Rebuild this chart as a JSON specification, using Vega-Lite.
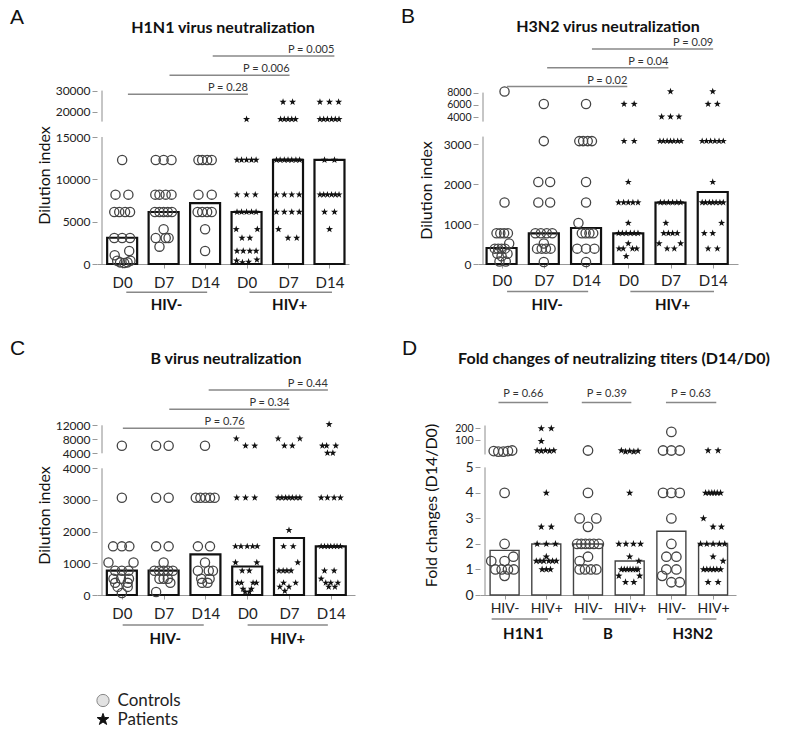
{
"$schema": "https://vega.github.io/schema/vega-lite/v6.json",
"padding": {"left": 10, "top": 6, "right": 5, "bottom": 5},
"background": "white",
"config": {"view": {"stroke": null}, "axis": {"grid": false, "labelFont": "Lato", "titleFont": "Lato", "domainColor": "#999", "tickColor": "#999", "labelColor": "#222", "titleColor": "#111", "titleFontWeight": "normal", "tickCount": 30}},
"datasets": {
"aPt": [
{"x":1.00,"v":12288,"g":"C"},{"x":0.84,"v":8192,"g":"C"},{"x":1.15,"v":8192,"g":"C"},{"x":0.81,"v":6144,"g":"C"},{"x":0.93,"v":6144,"g":"C"},{"x":1.07,"v":6144,"g":"C"},{"x":1.19,"v":6144,"g":"C"},{"x":0.81,"v":3072,"g":"C"},{"x":1.00,"v":3072,"g":"C"},{"x":1.19,"v":3072,"g":"C"},{"x":1.17,"v":1536,"g":"C"},{"x":0.82,"v":1024,"g":"C"},{"x":0.88,"v":384,"g":"C"},{"x":0.95,"v":192,"g":"C"},{"x":1.05,"v":128,"g":"C"},{"x":1.13,"v":192,"g":"C"},{"x":1.2,"v":384,"g":"C"},
{"x":1.81,"v":12288,"g":"C"},{"x":2.00,"v":12288,"g":"C"},{"x":2.19,"v":12288,"g":"C"},{"x":1.8,"v":8192,"g":"C"},{"x":1.9,"v":8192,"g":"C"},{"x":2.05,"v":8192,"g":"C"},{"x":2.19,"v":8192,"g":"C"},{"x":1.79,"v":6144,"g":"C"},{"x":1.9,"v":6144,"g":"C"},{"x":2.0,"v":6144,"g":"C"},{"x":2.1,"v":6144,"g":"C"},{"x":2.2,"v":6144,"g":"C"},{"x":2.0,"v":4096,"g":"C"},{"x":1.81,"v":3072,"g":"C"},{"x":2.05,"v":3072,"g":"C"},{"x":2.12,"v":3072,"g":"C"},{"x":1.9,"v":2048,"g":"C"},
{"x":2.84,"v":12288,"g":"C"},{"x":2.93,"v":12288,"g":"C"},{"x":3.05,"v":12288,"g":"C"},{"x":3.16,"v":12288,"g":"C"},{"x":2.84,"v":8192,"g":"C"},{"x":3.16,"v":8192,"g":"C"},{"x":2.82,"v":6144,"g":"C"},{"x":2.93,"v":6144,"g":"C"},{"x":3.05,"v":6144,"g":"C"},{"x":3.16,"v":6144,"g":"C"},{"x":3.0,"v":4096,"g":"C"},{"x":3.0,"v":1536,"g":"C"},
{"x":4.0,"v":16384,"g":"P"},{"x":3.77,"v":12288,"g":"P"},{"x":3.88,"v":12288,"g":"P"},{"x":4.0,"v":12288,"g":"P"},{"x":4.12,"v":12288,"g":"P"},{"x":4.23,"v":12288,"g":"P"},{"x":3.77,"v":8192,"g":"P"},{"x":4.0,"v":8192,"g":"P"},{"x":4.21,"v":8192,"g":"P"},{"x":3.77,"v":6144,"g":"P"},{"x":3.88,"v":6144,"g":"P"},{"x":4.0,"v":6144,"g":"P"},{"x":4.12,"v":6144,"g":"P"},{"x":4.23,"v":6144,"g":"P"},{"x":3.75,"v":4096,"g":"P"},{"x":4.26,"v":4096,"g":"P"},{"x":3.89,"v":3072,"g":"P"},{"x":4.08,"v":3072,"g":"P"},{"x":3.77,"v":1536,"g":"P"},{"x":3.92,"v":1536,"g":"P"},{"x":4.08,"v":1536,"g":"P"},{"x":4.23,"v":1536,"g":"P"},{"x":3.76,"v":384,"g":"P"},{"x":3.9,"v":192,"g":"P"},{"x":4.05,"v":256,"g":"P"},{"x":4.25,"v":512,"g":"P"},
{"x":4.88,"v":24576,"g":"P"},{"x":5.11,"v":24576,"g":"P"},{"x":4.82,"v":16384,"g":"P"},{"x":4.91,"v":16384,"g":"P"},{"x":5.0,"v":16384,"g":"P"},{"x":5.09,"v":16384,"g":"P"},{"x":5.18,"v":16384,"g":"P"},{"x":4.72,"v":12288,"g":"P"},{"x":4.81,"v":12288,"g":"P"},{"x":4.91,"v":12288,"g":"P"},{"x":5.0,"v":12288,"g":"P"},{"x":5.09,"v":12288,"g":"P"},{"x":5.19,"v":12288,"g":"P"},{"x":5.28,"v":12288,"g":"P"},{"x":4.72,"v":8192,"g":"P"},{"x":4.91,"v":8192,"g":"P"},{"x":5.09,"v":8192,"g":"P"},{"x":5.27,"v":8192,"g":"P"},{"x":4.72,"v":6144,"g":"P"},{"x":4.91,"v":6144,"g":"P"},{"x":5.09,"v":6144,"g":"P"},{"x":5.27,"v":6144,"g":"P"},{"x":4.77,"v":4096,"g":"P"},{"x":5.0,"v":3072,"g":"P"},{"x":5.21,"v":3072,"g":"P"},
{"x":5.77,"v":24576,"g":"P"},{"x":6.0,"v":24576,"g":"P"},{"x":6.22,"v":24576,"g":"P"},{"x":5.77,"v":16384,"g":"P"},{"x":5.86,"v":16384,"g":"P"},{"x":5.95,"v":16384,"g":"P"},{"x":6.05,"v":16384,"g":"P"},{"x":6.14,"v":16384,"g":"P"},{"x":6.23,"v":16384,"g":"P"},{"x":5.88,"v":12288,"g":"P"},{"x":6.12,"v":12288,"g":"P"},{"x":5.77,"v":8192,"g":"P"},{"x":5.86,"v":8192,"g":"P"},{"x":5.95,"v":8192,"g":"P"},{"x":6.05,"v":8192,"g":"P"},{"x":6.14,"v":8192,"g":"P"},{"x":6.23,"v":8192,"g":"P"},{"x":5.88,"v":6144,"g":"P"},{"x":6.12,"v":6144,"g":"P"},{"x":6.0,"v":4096,"g":"P"}
],
"aBar": [{"x":1,"v":3100},{"x":2,"v":6144},{"x":3,"v":7200},{"x":4,"v":6144},{"x":5,"v":12288},{"x":6,"v":12288}],
"aAx": [{"y1":0,"y2":15000},{"y1":15240,"y2":30000}],
"aP": [{"x":1.139,"x2":4.034,"lvl":1,"label":"P = 0.28"},{"x":2.142,"x2":5.037,"lvl":2,"label":"P = 0.006"},{"x":3.184,"x2":6.118,"lvl":3,"label":"P = 0.005"}],
"aG": [{"x":1.10,"x2":3.05,"xm":2.07,"label":"HIV-"},{"x":4.07,"x2":6.06,"xm":5.04,"label":"HIV+"}],
"bPt": [
{"x":1.07,"v":8192,"g":"C"},{"x":1.07,"v":1536,"g":"C"},{"x":0.88,"v":768,"g":"C"},{"x":0.97,"v":768,"g":"C"},{"x":1.06,"v":768,"g":"C"},{"x":1.15,"v":768,"g":"C"},{"x":1.18,"v":512,"g":"C"},{"x":0.84,"v":384,"g":"C"},{"x":0.92,"v":384,"g":"C"},{"x":1.0,"v":384,"g":"C"},{"x":1.08,"v":384,"g":"C"},{"x":0.9,"v":256,"g":"C"},{"x":1.14,"v":256,"g":"C"},{"x":1.0,"v":192,"g":"C"},{"x":0.95,"v":64,"g":"C"},{"x":1.1,"v":64,"g":"C"},
{"x":2.0,"v":6144,"g":"C"},{"x":2.0,"v":3072,"g":"C"},{"x":1.87,"v":2048,"g":"C"},{"x":2.15,"v":2048,"g":"C"},{"x":1.87,"v":1536,"g":"C"},{"x":2.15,"v":1536,"g":"C"},{"x":1.8,"v":768,"g":"C"},{"x":1.93,"v":768,"g":"C"},{"x":2.07,"v":768,"g":"C"},{"x":2.2,"v":768,"g":"C"},{"x":2.0,"v":512,"g":"C"},{"x":1.84,"v":384,"g":"C"},{"x":1.95,"v":384,"g":"C"},{"x":2.05,"v":384,"g":"C"},{"x":2.16,"v":384,"g":"C"},{"x":2.0,"v":48,"g":"C"},
{"x":3.0,"v":6144,"g":"C"},{"x":2.84,"v":3072,"g":"C"},{"x":2.93,"v":3072,"g":"C"},{"x":3.04,"v":3072,"g":"C"},{"x":3.14,"v":3072,"g":"C"},{"x":3.0,"v":2048,"g":"C"},{"x":3.0,"v":1536,"g":"C"},{"x":2.82,"v":1024,"g":"C"},{"x":2.9,"v":768,"g":"C"},{"x":2.99,"v":768,"g":"C"},{"x":3.08,"v":768,"g":"C"},{"x":3.17,"v":768,"g":"C"},{"x":2.79,"v":384,"g":"C"},{"x":3.0,"v":384,"g":"C"},{"x":3.2,"v":384,"g":"C"},{"x":3.0,"v":48,"g":"C"},
{"x":3.9,"v":6144,"g":"P"},{"x":4.14,"v":6144,"g":"P"},{"x":3.9,"v":3072,"g":"P"},{"x":4.14,"v":3072,"g":"P"},{"x":4.0,"v":2048,"g":"P"},{"x":3.77,"v":1536,"g":"P"},{"x":3.89,"v":1536,"g":"P"},{"x":4.0,"v":1536,"g":"P"},{"x":4.11,"v":1536,"g":"P"},{"x":4.23,"v":1536,"g":"P"},{"x":4.0,"v":1024,"g":"P"},{"x":3.77,"v":768,"g":"P"},{"x":3.86,"v":768,"g":"P"},{"x":3.95,"v":768,"g":"P"},{"x":4.05,"v":768,"g":"P"},{"x":4.14,"v":768,"g":"P"},{"x":4.23,"v":768,"g":"P"},{"x":4.0,"v":512,"g":"P"},{"x":3.78,"v":384,"g":"P"},{"x":3.88,"v":384,"g":"P"},{"x":4.1,"v":384,"g":"P"},{"x":4.2,"v":384,"g":"P"},{"x":3.95,"v":192,"g":"P"},
{"x":5.0,"v":8192,"g":"P"},{"x":4.79,"v":4096,"g":"P"},{"x":5.0,"v":4096,"g":"P"},{"x":5.2,"v":4096,"g":"P"},{"x":4.75,"v":3072,"g":"P"},{"x":4.83,"v":3072,"g":"P"},{"x":4.92,"v":3072,"g":"P"},{"x":5.0,"v":3072,"g":"P"},{"x":5.08,"v":3072,"g":"P"},{"x":5.17,"v":3072,"g":"P"},{"x":5.25,"v":3072,"g":"P"},{"x":4.76,"v":1536,"g":"P"},{"x":4.85,"v":1536,"g":"P"},{"x":4.95,"v":1536,"g":"P"},{"x":5.05,"v":1536,"g":"P"},{"x":5.15,"v":1536,"g":"P"},{"x":5.24,"v":1536,"g":"P"},{"x":4.89,"v":1024,"g":"P"},{"x":4.84,"v":768,"g":"P"},{"x":4.95,"v":768,"g":"P"},{"x":5.05,"v":768,"g":"P"},{"x":5.16,"v":768,"g":"P"},{"x":4.73,"v":512,"g":"P"},{"x":5.24,"v":512,"g":"P"},{"x":4.92,"v":384,"g":"P"},{"x":5.09,"v":384,"g":"P"},
{"x":6.0,"v":8192,"g":"P"},{"x":5.89,"v":6144,"g":"P"},{"x":6.11,"v":6144,"g":"P"},{"x":5.75,"v":3072,"g":"P"},{"x":5.85,"v":3072,"g":"P"},{"x":5.95,"v":3072,"g":"P"},{"x":6.05,"v":3072,"g":"P"},{"x":6.15,"v":3072,"g":"P"},{"x":6.25,"v":3072,"g":"P"},{"x":6.0,"v":2048,"g":"P"},{"x":5.75,"v":1536,"g":"P"},{"x":5.83,"v":1536,"g":"P"},{"x":5.92,"v":1536,"g":"P"},{"x":6.0,"v":1536,"g":"P"},{"x":6.08,"v":1536,"g":"P"},{"x":6.17,"v":1536,"g":"P"},{"x":6.25,"v":1536,"g":"P"},{"x":6.21,"v":1024,"g":"P"},{"x":5.8,"v":768,"g":"P"},{"x":6.0,"v":768,"g":"P"},{"x":5.89,"v":384,"g":"P"},{"x":6.11,"v":384,"g":"P"}
],
"bBar": [{"x":1,"v":400},{"x":2,"v":768},{"x":3,"v":900},{"x":4,"v":768},{"x":5,"v":1536},{"x":6,"v":1800}],
"bAx": [{"y1":0,"y2":3185},{"y1":3300,"y2":8000}],
"bP": [{"x":1.129,"x2":3.977,"lvl":1,"label":"P = 0.02"},{"x":2.079,"x2":4.95,"lvl":2,"label":"P = 0.04"},{"x":3.14,"x2":6.01,"lvl":3,"label":"P = 0.09"}],
"bG": [{"x":1.13,"x2":3.05,"xm":2.08,"label":"HIV-"},{"x":4.05,"x2":6.03,"xm":5.05,"label":"HIV+"}],
"cPt": [
{"x":1.0,"v":6144,"g":"C"},{"x":1.0,"v":3072,"g":"C"},{"x":0.79,"v":1536,"g":"C"},{"x":1.0,"v":1536,"g":"C"},{"x":1.18,"v":1536,"g":"C"},{"x":0.68,"v":1024,"g":"C"},{"x":1.28,"v":1024,"g":"C"},{"x":0.84,"v":768,"g":"C"},{"x":1.0,"v":768,"g":"C"},{"x":1.16,"v":768,"g":"C"},{"x":0.8,"v":512,"g":"C"},{"x":0.98,"v":512,"g":"C"},{"x":1.17,"v":512,"g":"C"},{"x":0.84,"v":384,"g":"C"},{"x":1.14,"v":384,"g":"C"},{"x":0.9,"v":256,"g":"C"},{"x":1.14,"v":256,"g":"C"},{"x":1.0,"v":64,"g":"C"},
{"x":1.82,"v":6144,"g":"C"},{"x":2.12,"v":6144,"g":"C"},{"x":1.82,"v":3072,"g":"C"},{"x":2.12,"v":3072,"g":"C"},{"x":1.82,"v":1536,"g":"C"},{"x":2.12,"v":1536,"g":"C"},{"x":2.0,"v":1024,"g":"C"},{"x":1.78,"v":768,"g":"C"},{"x":1.89,"v":768,"g":"C"},{"x":2.0,"v":768,"g":"C"},{"x":2.11,"v":768,"g":"C"},{"x":2.22,"v":768,"g":"C"},{"x":1.9,"v":512,"g":"C"},{"x":2.0,"v":512,"g":"C"},{"x":2.1,"v":512,"g":"C"},{"x":2.16,"v":384,"g":"C"},{"x":1.82,"v":96,"g":"C"},
{"x":2.99,"v":6144,"g":"C"},{"x":2.77,"v":3072,"g":"C"},{"x":2.88,"v":3072,"g":"C"},{"x":3.0,"v":3072,"g":"C"},{"x":3.11,"v":3072,"g":"C"},{"x":3.22,"v":3072,"g":"C"},{"x":2.82,"v":1536,"g":"C"},{"x":3.11,"v":1536,"g":"C"},{"x":2.99,"v":1024,"g":"C"},{"x":2.82,"v":768,"g":"C"},{"x":3.08,"v":768,"g":"C"},{"x":3.18,"v":768,"g":"C"},{"x":2.9,"v":512,"g":"C"},{"x":3.1,"v":512,"g":"C"},{"x":2.92,"v":384,"g":"C"},{"x":3.05,"v":384,"g":"C"},
{"x":3.74,"v":8192,"g":"P"},{"x":3.96,"v":6144,"g":"P"},{"x":4.18,"v":6144,"g":"P"},{"x":3.75,"v":3072,"g":"P"},{"x":3.96,"v":3072,"g":"P"},{"x":4.18,"v":3072,"g":"P"},{"x":3.72,"v":1536,"g":"P"},{"x":3.85,"v":1536,"g":"P"},{"x":4.0,"v":1536,"g":"P"},{"x":4.13,"v":1536,"g":"P"},{"x":4.24,"v":1536,"g":"P"},{"x":3.72,"v":1024,"g":"P"},{"x":4.23,"v":1024,"g":"P"},{"x":3.88,"v":768,"g":"P"},{"x":4.05,"v":768,"g":"P"},{"x":3.77,"v":384,"g":"P"},{"x":3.86,"v":384,"g":"P"},{"x":4.14,"v":384,"g":"P"},{"x":4.22,"v":384,"g":"P"},{"x":3.9,"v":192,"g":"P"},{"x":4.1,"v":192,"g":"P"},{"x":3.95,"v":96,"g":"P"},{"x":4.05,"v":96,"g":"P"},
{"x":4.74,"v":8192,"g":"P"},{"x":5.26,"v":8192,"g":"P"},{"x":4.89,"v":6144,"g":"P"},{"x":5.08,"v":6144,"g":"P"},{"x":4.74,"v":3072,"g":"P"},{"x":4.83,"v":3072,"g":"P"},{"x":4.92,"v":3072,"g":"P"},{"x":5.0,"v":3072,"g":"P"},{"x":5.08,"v":3072,"g":"P"},{"x":5.17,"v":3072,"g":"P"},{"x":5.26,"v":3072,"g":"P"},{"x":5.0,"v":2048,"g":"P"},{"x":4.87,"v":1536,"g":"P"},{"x":5.1,"v":1536,"g":"P"},{"x":5.21,"v":1024,"g":"P"},{"x":4.76,"v":768,"g":"P"},{"x":4.86,"v":768,"g":"P"},{"x":4.95,"v":768,"g":"P"},{"x":5.05,"v":768,"g":"P"},{"x":4.87,"v":384,"g":"P"},{"x":5.16,"v":384,"g":"P"},{"x":4.78,"v":256,"g":"P"},{"x":5.0,"v":256,"g":"P"},{"x":4.9,"v":128,"g":"P"},
{"x":5.96,"v":12288,"g":"P"},{"x":5.8,"v":6144,"g":"P"},{"x":5.9,"v":6144,"g":"P"},{"x":6.12,"v":6144,"g":"P"},{"x":5.92,"v":4096,"g":"P"},{"x":6.05,"v":4096,"g":"P"},{"x":5.77,"v":3072,"g":"P"},{"x":5.92,"v":3072,"g":"P"},{"x":6.08,"v":3072,"g":"P"},{"x":6.23,"v":3072,"g":"P"},{"x":5.77,"v":1536,"g":"P"},{"x":5.85,"v":1536,"g":"P"},{"x":5.93,"v":1536,"g":"P"},{"x":6.0,"v":1536,"g":"P"},{"x":6.08,"v":1536,"g":"P"},{"x":6.15,"v":1536,"g":"P"},{"x":6.23,"v":1536,"g":"P"},{"x":5.85,"v":768,"g":"P"},{"x":6.08,"v":768,"g":"P"},{"x":5.77,"v":512,"g":"P"},{"x":5.88,"v":384,"g":"P"},{"x":6.0,"v":384,"g":"P"},{"x":6.17,"v":384,"g":"P"},{"x":5.95,"v":256,"g":"P"},{"x":6.1,"v":256,"g":"P"}
],
"cBar": [{"x":1,"v":768},{"x":2,"v":768},{"x":3,"v":1280},{"x":4,"v":900},{"x":5,"v":1800},{"x":6,"v":1536}],
"cAx": [{"y1":0,"y2":4000},{"y1":4001,"y2":12000}],
"cP": [{"x":1.024,"x2":3.939,"lvl":1,"label":"P = 0.76"},{"x":2.135,"x2":5.011,"lvl":2,"label":"P = 0.34"},{"x":3.078,"x2":5.931,"lvl":3,"label":"P = 0.44"}],
"cG": [{"x":1.02,"x2":2.96,"xm":2.04,"label":"HIV-"},{"x":4.01,"x2":5.93,"xm":4.97,"label":"HIV+"}],
"dPt": [
{"x":0.74,"v":56,"g":"C"},{"x":0.85,"v":48,"g":"C"},{"x":0.97,"v":48,"g":"C"},{"x":1.08,"v":56,"g":"C"},{"x":1.18,"v":64,"g":"C"},{"x":1.0,"v":4,"g":"C"},{"x":1.0,"v":2,"g":"C"},{"x":1.21,"v":1.5,"g":"C"},{"x":0.68,"v":1.33,"g":"C"},{"x":1.0,"v":1.33,"g":"C"},{"x":0.78,"v":1,"g":"C"},{"x":0.93,"v":1,"g":"C"},{"x":1.08,"v":1,"g":"C"},{"x":1.22,"v":1,"g":"C"},{"x":1.0,"v":0.75,"g":"C"},
{"x":3.0,"v":64,"g":"C"},{"x":3.0,"v":4,"g":"C"},{"x":2.8,"v":3,"g":"C"},{"x":3.2,"v":3,"g":"C"},{"x":3.0,"v":2.67,"g":"C"},{"x":2.74,"v":2,"g":"C"},{"x":2.84,"v":2,"g":"C"},{"x":2.94,"v":2,"g":"C"},{"x":3.04,"v":2,"g":"C"},{"x":3.14,"v":2,"g":"C"},{"x":3.26,"v":2,"g":"C"},{"x":3.0,"v":1.5,"g":"C"},{"x":2.8,"v":1.33,"g":"C"},{"x":2.8,"v":1,"g":"C"},{"x":2.93,"v":1,"g":"C"},{"x":3.07,"v":1,"g":"C"},{"x":3.2,"v":1,"g":"C"},
{"x":5.0,"v":170,"g":"C"},{"x":4.8,"v":64,"g":"C"},{"x":5.0,"v":64,"g":"C"},{"x":5.2,"v":64,"g":"C"},{"x":4.8,"v":4,"g":"C"},{"x":5.0,"v":4,"g":"C"},{"x":5.2,"v":4,"g":"C"},{"x":5.0,"v":3,"g":"C"},{"x":5.0,"v":2,"g":"C"},{"x":4.88,"v":1.5,"g":"C"},{"x":5.12,"v":1.5,"g":"C"},{"x":4.88,"v":1,"g":"C"},{"x":5.12,"v":1,"g":"C"},{"x":4.78,"v":0.75,"g":"C"},{"x":5.0,"v":0.5,"g":"C"},{"x":5.2,"v":0.5,"g":"C"},
{"x":1.88,"v":200,"g":"P"},{"x":2.12,"v":200,"g":"P"},{"x":1.88,"v":96,"g":"P"},{"x":1.78,"v":64,"g":"P"},{"x":1.88,"v":56,"g":"P"},{"x":1.98,"v":64,"g":"P"},{"x":2.08,"v":56,"g":"P"},{"x":2.18,"v":64,"g":"P"},{"x":2.0,"v":4,"g":"P"},{"x":1.88,"v":2.67,"g":"P"},{"x":2.12,"v":2.67,"g":"P"},{"x":1.78,"v":2,"g":"P"},{"x":2.0,"v":2,"g":"P"},{"x":2.22,"v":2,"g":"P"},{"x":2.0,"v":1.5,"g":"P"},{"x":1.76,"v":1.33,"g":"P"},{"x":1.85,"v":1.33,"g":"P"},{"x":1.94,"v":1.33,"g":"P"},{"x":2.06,"v":1.33,"g":"P"},{"x":2.15,"v":1.33,"g":"P"},{"x":2.24,"v":1.33,"g":"P"},{"x":1.9,"v":1,"g":"P"},{"x":2.0,"v":1,"g":"P"},{"x":2.1,"v":1,"g":"P"},
{"x":3.8,"v":64,"g":"P"},{"x":3.9,"v":48,"g":"P"},{"x":4.0,"v":56,"g":"P"},{"x":4.1,"v":48,"g":"P"},{"x":4.2,"v":56,"g":"P"},{"x":4.0,"v":4,"g":"P"},{"x":3.74,"v":2,"g":"P"},{"x":3.91,"v":2,"g":"P"},{"x":4.09,"v":2,"g":"P"},{"x":4.26,"v":2,"g":"P"},{"x":4.0,"v":1.5,"g":"P"},{"x":4.22,"v":1.33,"g":"P"},{"x":3.8,"v":1,"g":"P"},{"x":3.87,"v":1,"g":"P"},{"x":3.94,"v":1,"g":"P"},{"x":4.01,"v":1,"g":"P"},{"x":4.08,"v":1,"g":"P"},{"x":4.15,"v":1,"g":"P"},{"x":4.2,"v":1,"g":"P"},{"x":3.74,"v":0.75,"g":"P"},{"x":4.24,"v":0.75,"g":"P"},{"x":3.9,"v":0.5,"g":"P"},{"x":4.1,"v":0.5,"g":"P"},
{"x":5.88,"v":64,"g":"P"},{"x":6.12,"v":64,"g":"P"},{"x":5.82,"v":4,"g":"P"},{"x":5.9,"v":4,"g":"P"},{"x":5.97,"v":4,"g":"P"},{"x":6.03,"v":4,"g":"P"},{"x":6.1,"v":4,"g":"P"},{"x":6.18,"v":4,"g":"P"},{"x":5.77,"v":3,"g":"P"},{"x":6.0,"v":2.67,"g":"P"},{"x":6.2,"v":2.67,"g":"P"},{"x":5.7,"v":2,"g":"P"},{"x":5.85,"v":2,"g":"P"},{"x":6.0,"v":2,"g":"P"},{"x":6.15,"v":2,"g":"P"},{"x":6.28,"v":2,"g":"P"},{"x":6.0,"v":1.5,"g":"P"},{"x":6.24,"v":1.33,"g":"P"},{"x":5.77,"v":1,"g":"P"},{"x":5.85,"v":1,"g":"P"},{"x":5.93,"v":1,"g":"P"},{"x":6.01,"v":1,"g":"P"},{"x":6.09,"v":1,"g":"P"},{"x":6.18,"v":1,"g":"P"},{"x":5.88,"v":0.5,"g":"P"},{"x":6.12,"v":0.5,"g":"P"}
],
"dBar": [{"x":1,"v":1.75},{"x":2,"v":2},{"x":3,"v":2},{"x":4,"v":1.33},{"x":5,"v":2.5},{"x":6,"v":2}],
"dAx": [{"y1":0,"y2":5},{"y1":5.001,"y2":225}],
"dP": [{"x":0.853,"x2":2.044,"xm":1.45,"lvl":1,"label":"P = 0.66"},{"x":2.851,"x2":4.04,"xm":3.45,"lvl":1,"label":"P = 0.39"},{"x":4.87,"x2":6.077,"xm":5.47,"lvl":1,"label":"P = 0.63"}],
"dG": [{"x":0.69,"x2":2.04,"xm":1.45,"label":"H1N1"},{"x":2.87,"x2":4.04,"xm":3.48,"label":"B"},{"x":4.89,"x2":6.08,"xm":5.51,"label":"H3N2"}],
"leg": [{"label":"Controls"},{"label":"Patients"}]
},
"vconcat": [
{"vconcat": [
{"hconcat": [
{"title": {"text": "A", "anchor": "start", "frame": "bounds", "fontSize": 21, "font": "Liberation Sans", "fontWeight": "normal", "offset": -8, "dx": -26, "color": "#111"},
 "vconcat": [{
  "width": 252, "height": 226,
  "title": {"text": "H1N1 virus neutralization", "anchor": "middle", "frame": "group", "fontSize": 16, "font": "Lato", "fontWeight": "bold", "offset": 2, "color": "#111"},
  "layer": [
   {"layer": [
    {"data": {"name": "aAx"}, "mark": {"type": "rule", "color": "#8c8c8c", "strokeWidth": 1},
     "encoding": {"x": {"datum": 0.514, "type": "quantitative", "scale": {"domain": [0.514, 6.35], "nice": false, "zero": false}, "title": null},
      "y": {"field": "y1", "type": "quantitative", "scale": {"domain": [0, 15000, 15240, 30000], "range": [226, 99, 83.6, 52.6], "nice": false, "zero": false}, "title": "Dilution index"},
      "y2": {"field": "y2"}}},
    {"data": {"name": "aBar"}, "mark": {"type": "bar", "orient": "vertical", "size": 30, "fill": "white", "stroke": "#111", "strokeWidth": 2.2},
     "encoding": {"x": {"field": "x", "type": "quantitative", "scale": {"domain": [0.514, 6.35], "nice": false, "zero": false}, "title": null,
       "axis": {"values": [1,2,3,4,5,6], "labelExpr": "['','D0','D7','D14','D0','D7','D14'][datum.value]", "labelFontSize": 15, "labelPadding": 7, "tickSize": 4, "labelFlush": false, "labelOverlap": false}},
      "y": {"field": "v", "type": "quantitative", "scale": {"domain": [0, 15000, 15240, 30000], "range": [226, 99, 83.6, 52.6], "nice": false, "zero": false}, "title": "Dilution index",
       "axis": {"values": [0,5000,10000,15000,20000,30000], "format": "d", "domain": false, "tickSize": 5, "labelFontSize": 12, "labelPadding": 2, "labelOverlap": false, "titleFontSize": 16, "titleAngle": -90, "titleAlign": "center", "titleBaseline": "middle", "titleX": -53, "titleY": 137}}}},
    {"data": {"name": "aPt"}, "transform": [{"filter": "datum.g == 'C'"}], "mark": {"type": "point", "shape": "circle", "filled": false, "size": 85, "color": "#444", "strokeWidth": 1.3, "opacity": 1},
     "encoding": {"x": {"field": "x", "type": "quantitative", "scale": {"domain": [0.514, 6.35], "nice": false, "zero": false}, "title": null},
      "y": {"field": "v", "type": "quantitative", "scale": {"domain": [0, 15000, 15240, 30000], "range": [226, 99, 83.6, 52.6], "nice": false, "zero": false}, "title": "Dilution index"}}},
    {"data": {"name": "aPt"}, "transform": [{"filter": "datum.g == 'P'"}], "mark": {"type": "point", "shape": "M0,-1L0.235,-0.324L0.951,-0.309L0.38,0.124L0.588,0.809L0,0.4L-0.588,0.809L-0.38,0.124L-0.951,-0.309L-0.235,-0.324Z", "filled": true, "size": 55, "color": "#111", "opacity": 1},
     "encoding": {"x": {"field": "x", "type": "quantitative", "scale": {"domain": [0.514, 6.35], "nice": false, "zero": false}, "title": null},
      "y": {"field": "v", "type": "quantitative", "scale": {"domain": [0, 15000, 15240, 30000], "range": [226, 99, 83.6, 52.6], "nice": false, "zero": false}, "title": "Dilution index"}}}
   ]},
   {"data": {"name": "aP"}, "layer": [
    {"mark": {"type": "rule", "color": "#888", "strokeWidth": 1.5},
     "encoding": {"x": {"field": "x", "type": "quantitative", "scale": {"domain": [0.514, 6.35], "nice": false, "zero": false}, "title": null}, "x2": {"field": "x2"},
      "y": {"field": "lvl", "type": "quantitative", "scale": {"domain": [1, 3], "range": [56.3, 18]}, "axis": null}}},
    {"mark": {"type": "text", "align": "right", "baseline": "bottom", "dy": -1, "font": "Lato", "fontSize": 11, "color": "#333"},
     "encoding": {"x": {"field": "x2", "type": "quantitative", "scale": {"domain": [0.514, 6.35], "nice": false, "zero": false}, "title": null},
      "y": {"field": "lvl", "type": "quantitative", "scale": {"domain": [1, 3], "range": [56.3, 18]}, "axis": null}, "text": {"field": "label"}}}
   ]},
   {"data": {"name": "aG"}, "layer": [
    {"mark": {"type": "rule", "color": "#888", "strokeWidth": 1.5},
     "encoding": {"x": {"field": "x", "type": "quantitative", "scale": {"domain": [0.514, 6.35], "nice": false, "zero": false}, "title": null}, "x2": {"field": "x2"},
      "y": {"datum": 1, "type": "quantitative", "scale": {"domain": [1, 2], "range": [254.3, 267]}, "axis": null}}},
    {"mark": {"type": "text", "baseline": "middle", "font": "Lato", "fontSize": 15, "fontWeight": "bold", "color": "#111"},
     "encoding": {"x": {"field": "xm", "type": "quantitative", "scale": {"domain": [0.514, 6.35], "nice": false, "zero": false}, "title": null},
      "y": {"datum": 2, "type": "quantitative", "scale": {"domain": [1, 2], "range": [254.3, 267]}, "axis": null}, "text": {"field": "label"}}}
   ]}
  ],
  "resolve": {"scale": {"y": "independent"}}
 }]},
{"title": {"text": "B", "anchor": "start", "frame": "bounds", "fontSize": 21, "font": "Liberation Sans", "fontWeight": "normal", "offset": -8, "dx": -17, "color": "#111"},
 "vconcat": [{
  "width": 260, "height": 226,
  "title": {"text": "H3N2 virus neutralization", "anchor": "middle", "frame": "group", "fontSize": 16, "font": "Lato", "fontWeight": "bold", "offset": 2, "color": "#111"},
  "layer": [
   {"layer": [
    {"data": {"name": "bAx"}, "mark": {"type": "rule", "color": "#8c8c8c", "strokeWidth": 1},
     "encoding": {"x": {"datum": 0.56, "type": "quantitative", "scale": {"domain": [0.56, 6.48], "nice": false, "zero": false}, "title": null},
      "y": {"field": "y1", "type": "quantitative", "scale": {"domain": [0, 3185, 3300, 8000], "range": [226, 98.6, 83.6, 54.6], "nice": false, "zero": false}, "title": "Dilution index"},
      "y2": {"field": "y2"}}},
    {"data": {"name": "bBar"}, "mark": {"type": "bar", "orient": "vertical", "size": 30, "fill": "white", "stroke": "#111", "strokeWidth": 2.2},
     "encoding": {"x": {"field": "x", "type": "quantitative", "scale": {"domain": [0.56, 6.48], "nice": false, "zero": false}, "title": null,
       "axis": {"values": [1,2,3,4,5,6], "labelExpr": "['','D0','D7','D14','D0','D7','D14'][datum.value]", "labelFontSize": 15, "labelPadding": 5, "tickSize": 4, "labelFlush": false, "labelOverlap": false}},
      "y": {"field": "v", "type": "quantitative", "scale": {"domain": [0, 3185, 3300, 8000], "range": [226, 98.6, 83.6, 54.6], "nice": false, "zero": false}, "title": "Dilution index",
       "axis": {"values": [0,1000,2000,3000,4000,6000,8000], "tickCount": 30, "format": "d", "domain": false, "tickSize": 5, "labelFontSize": {"condition": {"test": "datum.value >= 4000", "value": 10.5}, "value": 12}, "labelPadding": 2, "labelOverlap": false, "titleFontSize": 16, "titleAngle": -90, "titleAlign": "center", "titleBaseline": "middle", "titleX": -52, "titleY": 152}}}},
    {"data": {"name": "bPt"}, "transform": [{"filter": "datum.g == 'C'"}], "mark": {"type": "point", "shape": "circle", "filled": false, "size": 85, "color": "#444", "strokeWidth": 1.3, "opacity": 1},
     "encoding": {"x": {"field": "x", "type": "quantitative", "scale": {"domain": [0.56, 6.48], "nice": false, "zero": false}, "title": null},
      "y": {"field": "v", "type": "quantitative", "scale": {"domain": [0, 3185, 3300, 8000], "range": [226, 98.6, 83.6, 54.6], "nice": false, "zero": false}, "title": "Dilution index"}}},
    {"data": {"name": "bPt"}, "transform": [{"filter": "datum.g == 'P'"}], "mark": {"type": "point", "shape": "M0,-1L0.235,-0.324L0.951,-0.309L0.38,0.124L0.588,0.809L0,0.4L-0.588,0.809L-0.38,0.124L-0.951,-0.309L-0.235,-0.324Z", "filled": true, "size": 55, "color": "#111", "opacity": 1},
     "encoding": {"x": {"field": "x", "type": "quantitative", "scale": {"domain": [0.56, 6.48], "nice": false, "zero": false}, "title": null},
      "y": {"field": "v", "type": "quantitative", "scale": {"domain": [0, 3185, 3300, 8000], "range": [226, 98.6, 83.6, 54.6], "nice": false, "zero": false}, "title": "Dilution index"}}}
   ]},
   {"data": {"name": "bP"}, "layer": [
    {"mark": {"type": "rule", "color": "#888", "strokeWidth": 1.5},
     "encoding": {"x": {"field": "x", "type": "quantitative", "scale": {"domain": [0.56, 6.48], "nice": false, "zero": false}, "title": null}, "x2": {"field": "x2"},
      "y": {"field": "lvl", "type": "quantitative", "scale": {"domain": [1, 3], "range": [48.6, 11]}, "axis": null}}},
    {"mark": {"type": "text", "align": "right", "baseline": "bottom", "dy": -1, "font": "Lato", "fontSize": 11, "color": "#333"},
     "encoding": {"x": {"field": "x2", "type": "quantitative", "scale": {"domain": [0.56, 6.48], "nice": false, "zero": false}, "title": null},
      "y": {"field": "lvl", "type": "quantitative", "scale": {"domain": [1, 3], "range": [48.6, 11]}, "axis": null}, "text": {"field": "label"}}}
   ]},
   {"data": {"name": "bG"}, "layer": [
    {"mark": {"type": "rule", "color": "#888", "strokeWidth": 1.5},
     "encoding": {"x": {"field": "x", "type": "quantitative", "scale": {"domain": [0.56, 6.48], "nice": false, "zero": false}, "title": null}, "x2": {"field": "x2"},
      "y": {"datum": 1, "type": "quantitative", "scale": {"domain": [1, 2], "range": [253.6, 267]}, "axis": null}}},
    {"mark": {"type": "text", "baseline": "middle", "font": "Lato", "fontSize": 15, "fontWeight": "bold", "color": "#111"},
     "encoding": {"x": {"field": "xm", "type": "quantitative", "scale": {"domain": [0.56, 6.48], "nice": false, "zero": false}, "title": null},
      "y": {"datum": 2, "type": "quantitative", "scale": {"domain": [1, 2], "range": [253.6, 267]}, "axis": null}, "text": {"field": "label"}}}
   ]}
  ],
  "resolve": {"scale": {"y": "independent"}}
 }]}
], "spacing": 52},
{"hconcat": [
{"title": {"text": "C", "anchor": "start", "frame": "bounds", "fontSize": 21, "font": "Liberation Sans", "fontWeight": "normal", "offset": -8, "dx": -26, "color": "#111"},
 "vconcat": [{
  "width": 258, "height": 226,
  "title": {"text": "B virus neutralization", "anchor": "middle", "frame": "group", "fontSize": 16, "font": "Lato", "fontWeight": "bold", "offset": 2, "color": "#111"},
  "layer": [
   {"layer": [
    {"data": {"name": "cAx"}, "mark": {"type": "rule", "color": "#8c8c8c", "strokeWidth": 1},
     "encoding": {"x": {"datum": 0.525, "type": "quantitative", "scale": {"domain": [0.525, 6.46], "nice": false, "zero": false}, "title": null},
      "y": {"field": "y1", "type": "quantitative", "scale": {"domain": [0, 4000, 4001, 12000], "range": [226, 99.3, 84.3, 56.3], "nice": false, "zero": false}, "title": "Dilution index"},
      "y2": {"field": "y2"}}},
    {"data": {"name": "cBar"}, "mark": {"type": "bar", "orient": "vertical", "size": 30, "fill": "white", "stroke": "#111", "strokeWidth": 2.2},
     "encoding": {"x": {"field": "x", "type": "quantitative", "scale": {"domain": [0.525, 6.46], "nice": false, "zero": false}, "title": null,
       "axis": {"values": [1,2,3,4,5,6], "labelExpr": "['','D0','D7','D14','D0','D7','D14'][datum.value]", "labelFontSize": 15, "labelPadding": 7, "tickSize": 4, "labelFlush": false, "labelOverlap": false}},
      "y": {"field": "v", "type": "quantitative", "scale": {"domain": [0, 4000, 4001, 12000], "range": [226, 99.3, 84.3, 56.3], "nice": false, "zero": false}, "title": "Dilution index",
       "axis": {"values": [0,1000,2000,3000,4000,4001,8000,12000], "tickCount": 30, "format": "d", "labelExpr": "datum.value == 4001 ? '4000' : datum.label", "domain": false, "tickSize": 5, "labelFontSize": 12, "labelPadding": 2, "labelOverlap": false, "titleFontSize": 16, "titleAngle": -90, "titleAlign": "center", "titleBaseline": "middle", "titleX": -53, "titleY": 146}}}},
    {"data": {"name": "cPt"}, "transform": [{"filter": "datum.g == 'C'"}], "mark": {"type": "point", "shape": "circle", "filled": false, "size": 85, "color": "#444", "strokeWidth": 1.3, "opacity": 1},
     "encoding": {"x": {"field": "x", "type": "quantitative", "scale": {"domain": [0.525, 6.46], "nice": false, "zero": false}, "title": null},
      "y": {"field": "v", "type": "quantitative", "scale": {"domain": [0, 4000, 4001, 12000], "range": [226, 99.3, 84.3, 56.3], "nice": false, "zero": false}, "title": "Dilution index"}}},
    {"data": {"name": "cPt"}, "transform": [{"filter": "datum.g == 'P'"}], "mark": {"type": "point", "shape": "M0,-1L0.235,-0.324L0.951,-0.309L0.38,0.124L0.588,0.809L0,0.4L-0.588,0.809L-0.38,0.124L-0.951,-0.309L-0.235,-0.324Z", "filled": true, "size": 55, "color": "#111", "opacity": 1},
     "encoding": {"x": {"field": "x", "type": "quantitative", "scale": {"domain": [0.525, 6.46], "nice": false, "zero": false}, "title": null},
      "y": {"field": "v", "type": "quantitative", "scale": {"domain": [0, 4000, 4001, 12000], "range": [226, 99.3, 84.3, 56.3], "nice": false, "zero": false}, "title": "Dilution index"}}}
   ]},
   {"data": {"name": "cP"}, "layer": [
    {"mark": {"type": "rule", "color": "#888", "strokeWidth": 1.5},
     "encoding": {"x": {"field": "x", "type": "quantitative", "scale": {"domain": [0.525, 6.46], "nice": false, "zero": false}, "title": null}, "x2": {"field": "x2"},
      "y": {"field": "lvl", "type": "quantitative", "scale": {"domain": [1, 3], "range": [59.3, 21]}, "axis": null}}},
    {"mark": {"type": "text", "align": "right", "baseline": "bottom", "dy": -1, "font": "Lato", "fontSize": 11, "color": "#333"},
     "encoding": {"x": {"field": "x2", "type": "quantitative", "scale": {"domain": [0.525, 6.46], "nice": false, "zero": false}, "title": null},
      "y": {"field": "lvl", "type": "quantitative", "scale": {"domain": [1, 3], "range": [59.3, 21]}, "axis": null}, "text": {"field": "label"}}}
   ]},
   {"data": {"name": "cG"}, "layer": [
    {"mark": {"type": "rule", "color": "#888", "strokeWidth": 1.5},
     "encoding": {"x": {"field": "x", "type": "quantitative", "scale": {"domain": [0.525, 6.46], "nice": false, "zero": false}, "title": null}, "x2": {"field": "x2"},
      "y": {"datum": 1, "type": "quantitative", "scale": {"domain": [1, 2], "range": [256, 270]}, "axis": null}}},
    {"mark": {"type": "text", "baseline": "middle", "font": "Lato", "fontSize": 15, "fontWeight": "bold", "color": "#111"},
     "encoding": {"x": {"field": "xm", "type": "quantitative", "scale": {"domain": [0.525, 6.46], "nice": false, "zero": false}, "title": null},
      "y": {"datum": 2, "type": "quantitative", "scale": {"domain": [1, 2], "range": [256, 270]}, "axis": null}, "text": {"field": "label"}}}
   ]}
  ],
  "resolve": {"scale": {"y": "independent"}}
 }]},
{"title": {"text": "D", "anchor": "start", "frame": "bounds", "fontSize": 21, "font": "Liberation Sans", "fontWeight": "normal", "offset": -8, "dx": -21, "color": "#111"},
 "vconcat": [{
  "width": 256, "height": 226,
  "title": {"text": "Fold changes of neutralizing titers (D14/D0)", "anchor": "middle", "frame": "group", "fontSize": 16, "font": "Lato", "fontWeight": "bold", "offset": 2, "dx": 6, "color": "#111"},
  "layer": [
   {"layer": [
    {"data": {"name": "dAx"}, "mark": {"type": "rule", "color": "#8c8c8c", "strokeWidth": 1},
     "encoding": {"x": {"datum": 0.53, "type": "quantitative", "scale": {"domain": [0.53, 6.43], "nice": false, "zero": false}, "title": null},
      "y": {"field": "y1", "type": "quantitative", "scale": {"domain": [0, 5, 5.001, 64, 100, 225], "range": [226, 98.4, 85.5, 81.5, 71, 56.5], "nice": false, "zero": false}, "title": "Fold changes (D14/D0)"},
      "y2": {"field": "y2"}}},
    {"data": {"name": "dBar"}, "mark": {"type": "bar", "orient": "vertical", "size": 29, "fill": "white", "stroke": "#444", "strokeWidth": 1.4},
     "encoding": {"x": {"field": "x", "type": "quantitative", "scale": {"domain": [0.53, 6.43], "nice": false, "zero": false}, "title": null,
       "axis": {"values": [1,2,3,4,5,6], "labelExpr": "datum.value % 2 == 1 ? 'HIV-' : 'HIV+'", "labelFontSize": 14, "labelPadding": 2, "tickSize": 4, "labelFlush": false, "labelOverlap": false}},
      "y": {"field": "v", "type": "quantitative", "scale": {"domain": [0, 5, 5.001, 64, 100, 225], "range": [226, 98.4, 85.5, 81.5, 71, 56.5], "nice": false, "zero": false}, "title": "Fold changes (D14/D0)",
       "axis": {"values": [0,1,2,3,4,5,100,200], "tickCount": 30, "format": "d", "domain": false, "tickSize": 5, "labelFontSize": {"condition": {"test": "datum.value >= 100", "value": 10.5}, "value": 14}, "labelPadding": 2, "labelOverlap": false, "titleFontSize": 16, "titleAngle": -90, "titleAlign": "center", "titleBaseline": "middle", "titleX": -49, "titleY": 136}}}},
    {"data": {"name": "dPt"}, "transform": [{"filter": "datum.g == 'C'"}], "mark": {"type": "point", "shape": "circle", "filled": false, "size": 90, "color": "#444", "strokeWidth": 1.3, "opacity": 1},
     "encoding": {"x": {"field": "x", "type": "quantitative", "scale": {"domain": [0.53, 6.43], "nice": false, "zero": false}, "title": null},
      "y": {"field": "v", "type": "quantitative", "scale": {"domain": [0, 5, 5.001, 64, 100, 225], "range": [226, 98.4, 85.5, 81.5, 71, 56.5], "nice": false, "zero": false}, "title": "Fold changes (D14/D0)"}}},
    {"data": {"name": "dPt"}, "transform": [{"filter": "datum.g == 'P'"}], "mark": {"type": "point", "shape": "M0,-1L0.235,-0.324L0.951,-0.309L0.38,0.124L0.588,0.809L0,0.4L-0.588,0.809L-0.38,0.124L-0.951,-0.309L-0.235,-0.324Z", "filled": true, "size": 60, "color": "#111", "opacity": 1},
     "encoding": {"x": {"field": "x", "type": "quantitative", "scale": {"domain": [0.53, 6.43], "nice": false, "zero": false}, "title": null},
      "y": {"field": "v", "type": "quantitative", "scale": {"domain": [0, 5, 5.001, 64, 100, 225], "range": [226, 98.4, 85.5, 81.5, 71, 56.5], "nice": false, "zero": false}, "title": "Fold changes (D14/D0)"}}}
   ]},
   {"data": {"name": "dP"}, "layer": [
    {"mark": {"type": "rule", "color": "#888", "strokeWidth": 1.5},
     "encoding": {"x": {"field": "x", "type": "quantitative", "scale": {"domain": [0.53, 6.43], "nice": false, "zero": false}, "title": null}, "x2": {"field": "x2"},
      "y": {"field": "lvl", "type": "quantitative", "scale": {"domain": [1, 2], "range": [33.4, 0]}, "axis": null}}},
    {"mark": {"type": "text", "align": "center", "baseline": "bottom", "dy": -3, "font": "Lato", "fontSize": 11, "color": "#333"},
     "encoding": {"x": {"field": "xm", "type": "quantitative", "scale": {"domain": [0.53, 6.43], "nice": false, "zero": false}, "title": null},
      "y": {"field": "lvl", "type": "quantitative", "scale": {"domain": [1, 2], "range": [33.4, 0]}, "axis": null}, "text": {"field": "label"}}}
   ]},
   {"data": {"name": "dG"}, "layer": [
    {"mark": {"type": "rule", "color": "#888", "strokeWidth": 1.5},
     "encoding": {"x": {"field": "x", "type": "quantitative", "scale": {"domain": [0.53, 6.43], "nice": false, "zero": false}, "title": null}, "x2": {"field": "x2"},
      "y": {"datum": 1, "type": "quantitative", "scale": {"domain": [1, 2], "range": [250, 264.7]}, "axis": null}}},
    {"mark": {"type": "text", "baseline": "middle", "font": "Lato", "fontSize": 15, "fontWeight": "bold", "color": "#111"},
     "encoding": {"x": {"field": "xm", "type": "quantitative", "scale": {"domain": [0.53, 6.43], "nice": false, "zero": false}, "title": null},
      "y": {"datum": 2, "type": "quantitative", "scale": {"domain": [1, 2], "range": [250, 264.7]}, "axis": null}, "text": {"field": "label"}}}
   ]}
  ],
  "resolve": {"scale": {"y": "independent"}}
 }]}
], "spacing": 46}
], "spacing": 25},
{"width": 12, "height": 38, "data": {"name": "leg"},
 "mark": {"type": "point", "filled": true, "size": 150, "strokeWidth": 1, "opacity": 1},
 "encoding": {
  "y": {"field": "label", "type": "nominal", "sort": ["Controls", "Patients"], "title": null, "axis": {"orient": "right", "domain": false, "ticks": false, "labelFontSize": 17, "labelFont": "Lato", "labelPadding": 8, "labelColor": "#222"}},
  "shape": {"field": "label", "type": "nominal", "scale": {"domain": ["Controls", "Patients"], "range": ["circle", "M0,-1L0.235,-0.324L0.951,-0.309L0.38,0.124L0.588,0.809L0,0.4L-0.588,0.809L-0.38,0.124L-0.951,-0.309L-0.235,-0.324Z"]}, "legend": null},
  "fill": {"field": "label", "type": "nominal", "scale": {"domain": ["Controls", "Patients"], "range": ["#e2e2e2", "#111"]}, "legend": null},
  "stroke": {"field": "label", "type": "nominal", "scale": {"domain": ["Controls", "Patients"], "range": ["#888", "#111"]}, "legend": null}
 }}
], "spacing": 44
}
